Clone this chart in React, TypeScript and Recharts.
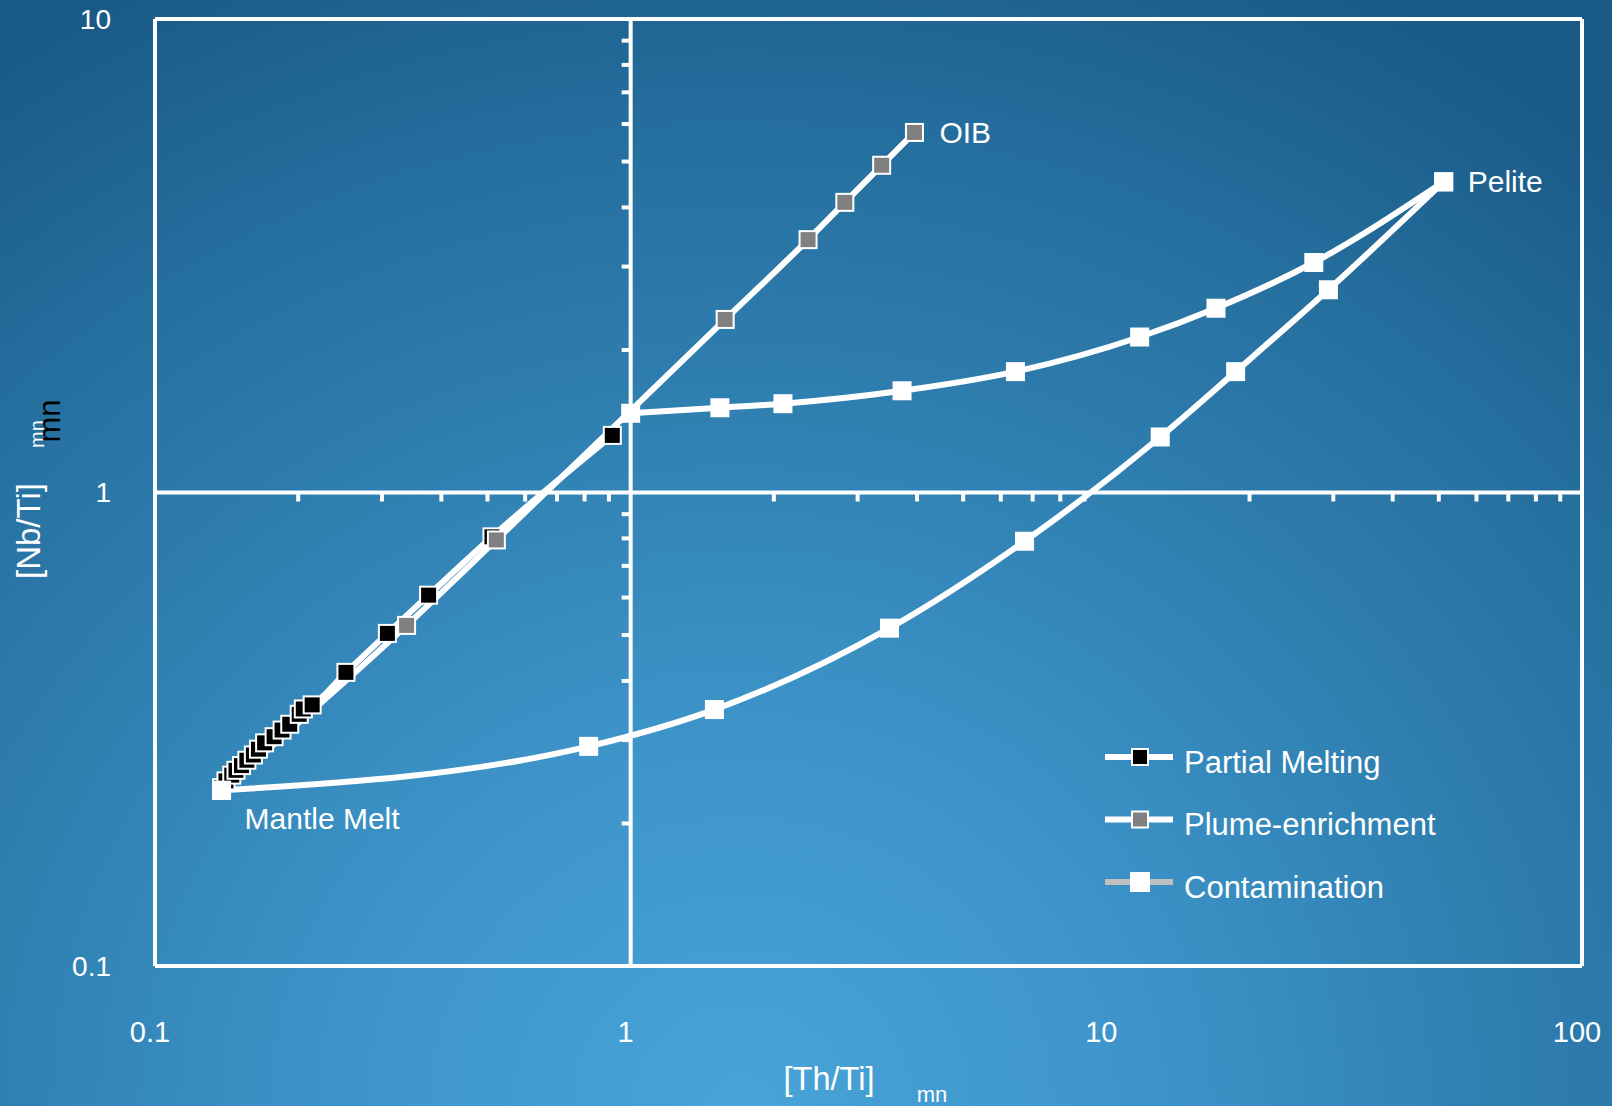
import React from "react";
import { LineChart, Line, XAxis, YAxis, ReferenceLine, ReferenceDot, Legend } from "recharts";

// [Th/Ti]mn vs [Nb/Ti]mn
const partialMelting = [
	{ x: 0.138, y: 0.238 },
	{ x: 0.141, y: 0.246 },
	{ x: 0.145, y: 0.253 },
	{ x: 0.148, y: 0.259 },
	{ x: 0.152, y: 0.265 },
	{ x: 0.156, y: 0.272 },
	{ x: 0.161, y: 0.279 },
	{ x: 0.165, y: 0.287 },
	{ x: 0.170, y: 0.296 },
	{ x: 0.178, y: 0.305 },
	{ x: 0.185, y: 0.315 },
	{ x: 0.192, y: 0.324 },
	{ x: 0.201, y: 0.340 },
	{ x: 0.205, y: 0.349 },
	{ x: 0.214, y: 0.356 },
	{ x: 0.252, y: 0.417 },
	{ x: 0.308, y: 0.504 },
	{ x: 0.376, y: 0.607 },
	{ x: 0.511, y: 0.806 },
	{ x: 0.915, y: 1.32 },
];

const plumeEnrichment = [
	{ x: 0.138, y: 0.235 },
	{ x: 0.338, y: 0.524 },
	{ x: 0.522, y: 0.794 },
	{ x: 1.58, y: 2.32 },
	{ x: 2.36, y: 3.42 },
	{ x: 2.82, y: 4.10 },
	{ x: 3.37, y: 4.91 },
	{ x: 3.95, y: 5.76 },
];

const contaminationUpper = [
	{ x: 1.0, y: 1.47 },
	{ x: 1.54, y: 1.51 },
	{ x: 2.09, y: 1.54 },
	{ x: 3.72, y: 1.64 },
	{ x: 6.44, y: 1.80 },
	{ x: 11.75, y: 2.13 },
	{ x: 17.0, y: 2.45 },
	{ x: 27.3, y: 3.06 },
	{ x: 51.2, y: 4.53 },
];

const contaminationLower = [
	{ x: 0.138, y: 0.235 },
	{ x: 0.816, y: 0.291 },
	{ x: 1.50, y: 0.348 },
	{ x: 3.50, y: 0.517 },
	{ x: 6.73, y: 0.789 },
	{ x: 12.98, y: 1.31 },
	{ x: 18.7, y: 1.80 },
	{ x: 29.3, y: 2.68 },
	{ x: 51.2, y: 4.53 },
];

const xTicks = [0.1, 1, 10, 100];
const yTicks = [0.1, 1, 10];
const xMinorTicks = [0.2, 0.3, 0.4, 0.5, 0.6, 0.7, 0.8, 0.9, 2, 3, 4, 5, 6, 7, 8, 9, 20, 30, 40, 50, 60, 70, 80, 90];
const yMinorTicks = [0.2, 0.3, 0.4, 0.5, 0.6, 0.7, 0.8, 0.9, 2, 3, 4, 5, 6, 7, 8, 9];

const legendItems = [
	{ name: "Partial Melting", line: "#ffffff", fill: "#000000" },
	{ name: "Plume-enrichment", line: "#ffffff", fill: "#808080" },
	{ name: "Contamination", line: "#c0c0c0", fill: "#ffffff" },
];

const FONT = "'Liberation Sans', Arial, sans-serif";

const square = (fill: string, size: number, border: number) => (props: any) => {
	const { cx, cy, index } = props;
	if (cx == null || cy == null) return <g key={index} />;
	return (
		<rect
			key={index}
			x={cx - size / 2}
			y={cy - size / 2}
			width={size}
			height={size}
			fill={fill}
			stroke="#ffffff"
			strokeWidth={border}
		/>
	);
};

const XTick = (props: any) => (
	<text x={props.x - 5} y={props.y + 64} textAnchor="middle" dominantBaseline="central" fill="#ffffff" fontSize={29} fontFamily={FONT}>
		{props.payload.value}
	</text>
);

const YTick = (props: any) => (
	<text x={props.x - 42} y={props.y} textAnchor="end" dominantBaseline="central" fill="#ffffff" fontSize={28} fontFamily={FONT}>
		{props.payload.value}
	</text>
);

const LegendBox = () => (
	<svg width={340} height={170}>
		{legendItems.map((it, i) => {
			const y = 22 + i * 62.5;
			const s = i === 2 ? 20 : 16;
			return (
				<g key={it.name}>
					<line x1={5} y1={y} x2={73} y2={y} stroke={it.line} strokeWidth={6} />
					<rect x={40 - s / 2} y={y - s / 2} width={s} height={s} fill={it.fill} stroke="#ffffff" strokeWidth={i === 2 ? 0 : 2} />
					<text x={84} y={y + 5} dominantBaseline="central" fill="#ffffff" fontSize={31} fontFamily={FONT}>
						{it.name}
					</text>
				</g>
			);
		})}
	</svg>
);

const series = [
	{ key: "pm", data: partialMelting, fill: "#000000", size: 17, border: 2 },
	{ key: "pe", data: plumeEnrichment, fill: "#808080", size: 17, border: 2 },
	{ key: "cu", data: contaminationUpper, fill: "#ffffff", size: 19, border: 0 },
	{ key: "cl", data: contaminationLower, fill: "#ffffff", size: 19, border: 0 },
];

const white = "#ffffff";

export default function App() {
	return (
		<div
			style={{
				position: "absolute",
				left: 0,
				top: 0,
				width: 1612,
				height: 1106,
				overflow: "hidden",
				fontFamily: FONT,
				background:
					"radial-gradient(ellipse 1350px 1250px at 46% 100%, #48a4d8 0%, #3d94c9 30%, #3080b2 55%, #256f9e 78%, #1a5a87 100%)",
			}}
		>
			<LineChart width={1612} height={1106} margin={{ top: 19, right: 30, left: 0, bottom: 0 }}>
				<XAxis
					dataKey="x"
					type="number"
					scale="log"
					domain={[0.1, 100]}
					allowDataOverflow
					ticks={xTicks}
					height={140}
					axisLine={false}
					tickLine={false}
					tickSize={0}
					tick={<XTick />}
				/>
				<YAxis
					dataKey="y"
					type="number"
					scale="log"
					domain={[0.1, 10]}
					allowDataOverflow
					ticks={yTicks}
					width={155}
					axisLine={false}
					tickLine={false}
					tickSize={0}
					tick={<YTick />}
				/>
				<ReferenceLine x={0.1} stroke={white} strokeWidth={4} />
				<ReferenceLine x={100} stroke={white} strokeWidth={4} />
				<ReferenceLine y={0.1} stroke={white} strokeWidth={4} />
				<ReferenceLine y={10} stroke={white} strokeWidth={4} />
				<ReferenceLine x={1} stroke={white} strokeWidth={4} />
				<ReferenceLine y={1} stroke={white} strokeWidth={4} />
				{xMinorTicks.map((v) => (
					<ReferenceLine
						key={`xm${v}`}
						segment={[{ x: v, y: 1 }, { x: v, y: 1 }]}
						shape={(p: any) => <line x1={p.x1} y1={p.y1} x2={p.x1} y2={p.y1 + 9} stroke={white} strokeWidth={4} />}
					/>
				))}
				{yMinorTicks.map((v) => (
					<ReferenceLine
						key={`ym${v}`}
						segment={[{ x: 1, y: v }, { x: 1, y: v }]}
						shape={(p: any) => <line x1={p.x1 - 9} y1={p.y1} x2={p.x1} y2={p.y1} stroke={white} strokeWidth={4} />}
					/>
				))}
				{series.map((s) => (
					<Line
						key={`l${s.key}`}
						data={s.data}
						dataKey="y"
						type="monotone"
						stroke={white}
						strokeWidth={6}
						dot={false}
						activeDot={false}
						legendType="none"
						isAnimationActive={false}
					/>
				))}
				{series.map((s) => (
					<Line
						key={`d${s.key}`}
						data={s.data}
						dataKey="y"
						stroke="none"
						strokeWidth={0}
						dot={square(s.fill, s.size, s.border)}
						activeDot={false}
						legendType="none"
						isAnimationActive={false}
					/>
				))}
				<ReferenceDot x={3.95} y={5.76} r={0} stroke="none" label={{ value: "OIB", position: "right", offset: 25, fill: white, fontSize: 30 }} />
				<ReferenceDot x={51.2} y={4.53} r={0} stroke="none" label={{ value: "Pelite", position: "right", offset: 24, fill: white, fontSize: 30 }} />
				<ReferenceDot
					x={0.138}
					y={0.235}
					r={0}
					stroke="none"
					label={{
						content: (p: any) => (
							<text x={p.viewBox.x + 23} y={p.viewBox.y + 28} dominantBaseline="central" fill={white} fontSize={30} fontFamily={FONT}>
								Mantle Melt
							</text>
						),
					}}
				/>
				<Legend
					layout="vertical"
					align="center"
					verticalAlign="middle"
					content={<LegendBox />}
					wrapperStyle={{ position: "absolute", left: 1100, top: 735, width: 340, height: 170 }}
				/>
			</LineChart>
			<div style={{ position: "absolute", left: 829, top: 1079, transform: "translate(-50%, -50%)", color: white, fontSize: 32.5, whiteSpace: "nowrap" }}>
				[Th/Ti]
			</div>
			<div style={{ position: "absolute", left: 932, top: 1095, transform: "translate(-50%, -50%)", color: white, fontSize: 22 }}>mn</div>
			<div style={{ position: "absolute", left: 29, top: 531, transform: "translate(-50%, -50%) rotate(-90deg)", color: white, fontSize: 33, whiteSpace: "nowrap" }}>
				[Nb/Ti]
			</div>
			<div style={{ position: "absolute", left: 37, top: 434, transform: "translate(-50%, -50%) rotate(-90deg)", color: white, fontSize: 20 }}>mn</div>
			<div style={{ position: "absolute", left: 50, top: 421, transform: "translate(-50%, -50%) rotate(-90deg)", color: "#000000", fontSize: 31 }}>mn</div>
		</div>
	);
}
